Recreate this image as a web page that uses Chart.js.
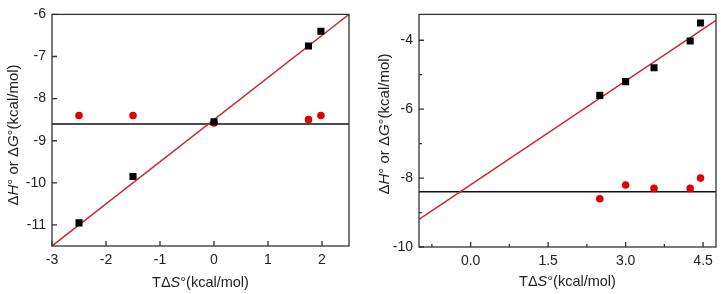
<!DOCTYPE html>
<html>
<head>
<meta charset="utf-8">
<script src="https://cdn.jsdelivr.net/npm/chart.js@4/dist/chart.umd.min.js"></script>
<style>
  html, body { margin: 0; padding: 0; background: #fff; }
  .wrap { display: flex; width: 721px; height: 294px; }
  .box { position: relative; height: 294px; }
</style>
</head>
<body>
<div class="wrap">
  <div class="box" style="width:360px"><canvas id="leftChart"></canvas></div>
  <div class="box" style="width:361px"><canvas id="rightChart"></canvas></div>
</div>
<script>
// ---- left panel data ----
const leftX = [-2.5, -1.5, 0, 1.75, 1.98];
const leftH = [-10.95, -9.85, -8.55, -6.75, -6.4];
const leftG = [-8.4, -8.4, -8.58, -8.5, -8.4];
const leftFitX = [-3, 2.5];
const leftFitY = [-11.5, -6];
const leftGMean = -8.6;
const leftXTicks = [-3, -2, -1, 0, 1, 2];
const leftYTicks = [-11, -10, -9, -8, -7, -6];

// ---- right panel data ----
const rightX = [2.5, 3.0, 3.55, 4.25, 4.45];
const rightH = [-5.6, -5.2, -4.8, -4.02, -3.5];
const rightG = [-8.6, -8.2, -8.3, -8.3, -8.0];
const rightFitX = [-1, 4.75];
const rightFitY = [-9.2, -3.42];
const rightGMean = -8.4;
const rightXTicks = [0, 1.5, 3, 4.5];
const rightXTickLabels = ['0.0', '1.5', '3.0', '4.5'];
const rightXMinor = [-0.75, 0.75, 2.25, 3.75];
const rightYTicks = [-10, -8, -6, -4];
const rightYMinor = [-9, -7, -5];

const FONT = "'Liberation Sans', Arial, sans-serif";
const xTitle = [['T\u0394', false], ['S', true], ['\u00b0(kcal/mol)', false]];
const yTitle = [['\u0394', false], ['H', true], ['\u00b0 or \u0394', false], ['G', true], ['\u00b0(kcal/mol)', false]];

function drawRich(ctx, parts, size, cx, cy, rotate) {
    ctx.save();
    ctx.translate(cx, cy);
    if (rotate) ctx.rotate(-Math.PI / 2);
    ctx.fillStyle = '#222';
    ctx.textBaseline = 'middle';
    let total = 0;
    const widths = parts.map(([t, it]) => {
        ctx.font = (it ? 'italic ' : '') + size + 'px ' + FONT;
        const w = ctx.measureText(t).width;
        total += w;
        return w;
    });
    let x = -total / 2;
    parts.forEach(([t, it], i) => {
        ctx.font = (it ? 'italic ' : '') + size + 'px ' + FONT;
        ctx.textAlign = 'left';
        ctx.fillText(t, x, 0);
        x += widths[i];
    });
    ctx.restore();
}

// frame, inward ticks and the rich axis titles
const framePlugin = {
    id: 'frame',
    afterDraw(chart, args, opts) {
        const { ctx, chartArea: a, scales } = chart;
        ctx.save();
        ctx.strokeStyle = '#333';
        ctx.lineWidth = 1.3;
        ctx.beginPath();
        const tick = (vals, len) => {
            vals.forEach(v => {
                const px = scales.x.getPixelForValue(v);
                ctx.moveTo(px, a.bottom); ctx.lineTo(px, a.bottom - len);
            });
        };
        const ytick = (vals, len) => {
            vals.forEach(v => {
                const py = scales.y.getPixelForValue(v);
                ctx.moveTo(a.left, py); ctx.lineTo(a.left + len, py);
            });
        };
        tick(opts.xMajor, 5);
        tick(opts.xMinor || [], 3);
        ytick(opts.yMajor, 5);
        ytick(opts.yMinor || [], 3);
        ctx.stroke();
        ctx.strokeRect(a.left, a.top, a.right - a.left, a.bottom - a.top);
        ctx.restore();
        drawRich(ctx, xTitle, opts.xTitleSize, (a.left + a.right) / 2, opts.xTitleY, false);
        drawRich(ctx, yTitle, opts.yTitleSize, opts.yTitleX, opts.yTitleY, true);
    }
};

function makeChart(id, cfg) {
    const ctx = document.getElementById(id).getContext('2d');
    return new Chart(ctx, {
        type: 'scatter',
        data: {
            datasets: [
                {
                    label: 'fit',
                    data: cfg.fitX.map((x, i) => ({ x, y: cfg.fitY[i] })),
                    showLine: true,
                    borderColor: '#c8282d',
                    borderWidth: 1.5,
                    pointRadius: 0,
                    order: 3
                },
                {
                    label: 'mean G',
                    data: [{ x: cfg.xMin, y: cfg.gMean }, { x: cfg.xMax, y: cfg.gMean }],
                    showLine: true,
                    borderColor: '#111',
                    borderWidth: 1.5,
                    pointRadius: 0,
                    order: 4
                },
                {
                    label: 'G',
                    data: cfg.x.map((x, i) => ({ x, y: cfg.g[i] })),
                    pointStyle: 'circle',
                    pointRadius: 3.8,
                    backgroundColor: '#e00000',
                    borderColor: '#e00000',
                    borderWidth: 0,
                    order: 2
                },
                {
                    label: 'H',
                    data: cfg.x.map((x, i) => ({ x, y: cfg.h[i] })),
                    pointStyle: 'rect',
                    pointRadius: 5,
                    backgroundColor: '#000',
                    borderColor: '#000',
                    borderWidth: 0,
                    order: 1
                }
            ]
        },
        options: {
            responsive: true,
            maintainAspectRatio: false,
            animation: false,
            layout: { padding: cfg.padding },
            plugins: {
                legend: { display: false },
                tooltip: { enabled: false },
                frame: cfg.frame
            },
            scales: {
                x: {
                    type: 'linear',
                    min: cfg.xMin,
                    max: cfg.xMax,
                    afterBuildTicks: s => { s.ticks = cfg.xTicks.map(v => ({ value: v })); },
                    afterFit: s => { s.height = cfg.xAxisH; },
                    grid: { display: false, drawTicks: false },
                    border: { display: false },
                    ticks: {
                        padding: 6,
                        color: '#222',
                        font: { family: FONT, size: cfg.tickSize },
                        callback: (v, i) => cfg.xLabels ? cfg.xLabels[i] : String(v)
                    }
                },
                y: {
                    type: 'linear',
                    min: cfg.yMin,
                    max: cfg.yMax,
                    afterBuildTicks: s => { s.ticks = cfg.yTicks.map(v => ({ value: v })); },
                    afterFit: s => { s.width = cfg.yAxisW; },
                    grid: { display: false, drawTicks: false },
                    border: { display: false },
                    ticks: {
                        padding: 6,
                        color: '#222',
                        font: { family: FONT, size: cfg.tickSize },
                        callback: v => String(v)
                    }
                }
            }
        },
        plugins: [framePlugin]
    });
}

makeChart('leftChart', {
    x: leftX, h: leftH, g: leftG, fitX: leftFitX, fitY: leftFitY, gMean: leftGMean,
    xMin: -3, xMax: 2.5, yMin: -11.5, yMax: -6,
    xTicks: leftXTicks, yTicks: leftYTicks,
    yAxisW: 52, xAxisH: 48, tickSize: 14,
    padding: { left: 0, right: 11, top: 7, bottom: 0 },
    frame: { xMajor: leftXTicks, yMajor: leftYTicks, xTitleSize: 14.5, yTitleSize: 15, xTitleY: 283, yTitleX: 14, yTitleY: 135 }
});

makeChart('rightChart', {
    x: rightX, h: rightH, g: rightG, fitX: rightFitX, fitY: rightFitY, gMean: rightGMean,
    xMin: -1, xMax: 4.75, yMin: -10, yMax: -3.25,
    xTicks: rightXTicks, xLabels: rightXTickLabels, yTicks: rightYTicks,
    yAxisW: 59, xAxisH: 47, tickSize: 14,
    padding: { left: 0, right: 5, top: 7, bottom: 0 },
    frame: { xMajor: rightXTicks, xMinor: rightXMinor, yMajor: rightYTicks, yMinor: rightYMinor, xTitleSize: 14.5, yTitleSize: 15, xTitleY: 282, yTitleX: 25, yTitleY: 124 }
});
</script>
</body>
</html>
